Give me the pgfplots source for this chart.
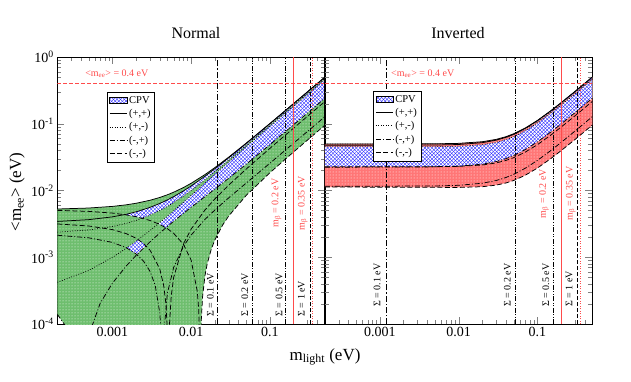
\documentclass[border=0pt]{standalone}
\usepackage{fontspec}
\setmainfont{Liberation Serif}
\usepackage{pgfplots}
\pgfplotsset{compat=1.18}
\usetikzlibrary{patterns}

% diagonal mesh used for the CP-violating band
\pgfdeclarepatternformonly{diagcross}{\pgfqpoint{-1pt}{-1pt}}{\pgfqpoint{4.5pt}{4.5pt}}{\pgfqpoint{3.6pt}{3.6pt}}{%
  \pgfsetlinewidth{0.35pt}%
  \pgfpathmoveto{\pgfqpoint{0pt}{0pt}}\pgfpathlineto{\pgfqpoint{3.65pt}{3.65pt}}%
  \pgfpathmoveto{\pgfqpoint{0pt}{3.6pt}}\pgfpathlineto{\pgfqpoint{3.65pt}{-0.05pt}}%
  \pgfusepath{stroke}}

\definecolor{nhgreen}{RGB}{110,190,110}
\definecolor{ihred}{RGB}{255,118,118}
\definecolor{limred}{RGB}{255,75,75}
\definecolor{meshblue}{RGB}{40,40,255}

\tikzset{
  mydot/.style={dash pattern=on 0.8pt off 1.7pt},
  mydashdot/.style={dash pattern=on 5pt off 2pt on 1pt off 2pt},
  mydash/.style={dash pattern=on 5pt off 2.5pt},
  sumA/.style={black, line width=0.7pt, dash pattern=on 6pt off 2pt on 1.2pt off 2pt},
  sumB/.style={black, line width=0.7pt, dash pattern=on 5pt off 1.5pt on 1pt off 1.5pt on 1pt off 1.5pt},
  sumC/.style={black, line width=0.7pt, dash pattern=on 4pt off 2pt},
  redA/.style={color=limred, draw=limred, line width=1.1pt, solid},
  redB/.style={color=limred, draw=limred, line width=1pt, dash pattern=on 1pt off 1.5pt},
  redC/.style={color=limred, draw=limred, line width=1.1pt, dash pattern=on 4pt off 2pt},
  vlab/.style={font=\fontsize{10}{12}\selectfont, rotate=90},
}

\begin{document}
\begin{tikzpicture}
\path[use as bounding box] (0,0) rectangle (631pt,382pt);

% ---------------- Normal ----------------
\begin{loglogaxis}[
    scale only axis, width=267.6pt, height=267pt, anchor=south west, at={(57.3pt,58pt)},
    xmin=2e-4, xmax=0.5, ymin=1e-4, ymax=1,
    xtick={0.001,0.01,0.1}, xticklabels={0.001,0.01,0.1},
    minor xtick={3e-4,4e-4,5e-4,6e-4,7e-4,8e-4,9e-4,2e-3,3e-3,4e-3,5e-3,6e-3,7e-3,8e-3,9e-3,
      0.02,0.03,0.04,0.05,0.06,0.07,0.08,0.09,0.2,0.3,0.4},
    ytick={1e-4,1e-3,1e-2,1e-1,1},
    minor ytick={2e-4,3e-4,4e-4,5e-4,6e-4,7e-4,8e-4,9e-4,2e-3,3e-3,4e-3,5e-3,6e-3,7e-3,8e-3,9e-3,
      0.02,0.03,0.04,0.05,0.06,0.07,0.08,0.09,0.2,0.3,0.4,0.5,0.6,0.7,0.8,0.9},
    yticklabels={10\textsuperscript{-4},10\textsuperscript{-3},10\textsuperscript{-2},10\textsuperscript{-1},10\textsuperscript{0}},
    tick align=inside, major tick length=7pt, minor tick length=4pt,
    axis line style={line width=0.8pt},
    tick label style={font=\fontsize{14}{16}\selectfont},
    legend cell align=left,
    legend style={at={(0.186,0.869)}, anchor=north west, draw=black, line width=0.6pt,
      font=\fontsize{10.5}{12}\selectfont, inner sep=2pt, row sep=0.5pt}]
% allowed region
\addplot[forget plot, draw=none, fill=nhgreen, postaction={pattern=dots, pattern color=white}] coordinates {
 (2e-4,5.280e-3) (5e-4,5.463e-3) (1e-3,5.777e-3) (1.5e-3,6.101e-3) (2e-3,6.435e-3) (3e-3,7.133e-3)
 (4e-3,7.866e-3) (5e-3,8.632e-3) (6e-3,9.426e-3) (8e-3,1.1083e-2) (1e-2,1.2811e-2) (1.5e-2,1.7326e-2)
 (2e-2,2.1998e-2) (3e-2,3.1568e-2) (5e-2,5.1089e-2) (0.1,0.1006) (0.2,0.2003) (0.5,0.5001)
 (0.5,0.09527) (0.2,0.03777) (0.1,0.01844) (5e-2,8.431e-3) (3e-2,4.144e-3) (2.5e-2,3.003e-3)
 (2e-2,1.810e-3) (1.8e-2,1.311e-3) (1.6e-2,7.95e-4) (1.5e-2,5.31e-4) (1.4e-2,2.59e-4) (1.35e-2,1.2e-4)
 (1.307e-2,1e-6) (4e-4,1e-6) (3e-4,7.1e-5) (2e-4,1.40e-4)};
% CPV-only bands
\addplot[forget plot, draw=none, fill=white, postaction={pattern=diagcross, pattern color=meshblue}] coordinates {
 (1.43e-3,4.33e-3) (1.5e-3,4.315e-3) (2e-3,4.055e-3) (2.42e-3,3.85e-3) (3e-3,4.265e-3) (4e-3,5.009e-3)
 (5e-3,5.786e-3) (6e-3,6.590e-3) (8e-3,8.264e-3) (1e-2,1.0006e-2) (1.5e-2,1.454e-2) (2e-2,1.9209e-2)
 (3e-2,2.8705e-2) (5e-2,4.7874e-2) (0.1,0.09591) (0.2,0.19195) (0.5,0.47998)
 (0.5,0.50007) (0.2,0.20017) (0.1,0.10033) (5e-2,5.0607e-2) (3e-2,3.0886e-2) (2e-2,2.1149e-2)
 (1.5e-2,1.6356e-2) (1e-2,1.1674e-2) (8e-3,9.857e-3) (6e-3,8.090e-3) (5e-3,7.231e-3) (4e-3,6.393e-3)
 (3e-3,5.578e-3) (2.42e-3,5.12e-3) (2e-3,4.789e-3) (1.5e-3,4.404e-3)};
\addplot[forget plot, draw=none, fill=white, postaction={pattern=diagcross, pattern color=meshblue}] coordinates {
 (3.84e-3,3.176e-3) (4e-3,3.105e-3) (4.79e-3,2.77e-3) (5e-3,2.889e-3) (6e-3,3.456e-3) (8e-3,4.545e-3)
 (1e-2,5.589e-3) (1.5e-2,8.084e-3) (2e-2,1.0496e-2) (3e-2,1.5242e-2) (5e-2,2.4699e-2) (0.1,0.04853)
 (0.2,0.09651) (0.5,0.24088)
 (0.5,0.45992) (0.2,0.18381) (0.1,0.09163) (5e-2,4.5381e-2) (3e-2,2.6807e-2) (2e-2,1.7536e-2)
 (1.5e-2,1.294e-2) (1e-2,8.427e-3) (8e-3,6.668e-3) (6e-3,4.954e-3) (5e-3,4.119e-3) (4.79e-3,3.948e-3)
 (4e-3,3.303e-3)};
\addplot[forget plot, draw=none, fill=white, postaction={pattern=diagcross, pattern color=meshblue}] coordinates {
 (1.52e-3,1.38e-3) (2e-3,1.738e-3) (2.13e-3,1.84e-3) (2.5e-3,1.602e-3) (2.67e-3,1.49e-3)
 (2.5e-3,1.383e-3) (2.05e-3,1.10e-3) (2e-3,1.125e-3)};
% (+,+)
\addplot[forget plot, black, line width=0.75pt] coordinates {
 (2e-4,5.280e-3) (5e-4,5.463e-3) (1e-3,5.777e-3) (1.5e-3,6.101e-3) (2e-3,6.435e-3) (3e-3,7.133e-3)
 (4e-3,7.866e-3) (5e-3,8.632e-3) (6e-3,9.426e-3) (8e-3,1.1083e-2) (1e-2,1.2811e-2) (1.5e-2,1.7326e-2)
 (2e-2,2.1998e-2) (3e-2,3.1568e-2) (5e-2,5.1089e-2) (0.1,0.1006) (0.2,0.2003) (0.5,0.5001)};
\addplot[forget plot, black, line width=0.75pt] coordinates {
 (2e-4,3.440e-3) (5e-4,3.658e-3) (1e-3,4.028e-3) (1.5e-3,4.404e-3) (2e-3,4.789e-3) (3e-3,5.578e-3)
 (4e-3,6.393e-3) (5e-3,7.231e-3) (6e-3,8.090e-3) (8e-3,9.857e-3) (1e-2,1.1674e-2) (1.5e-2,1.6356e-2)
 (2e-2,2.1149e-2) (3e-2,3.0886e-2) (5e-2,5.0607e-2) (0.1,0.10033) (0.2,0.20017) (0.5,0.50007)};
% (+,-)
\addplot[forget plot, black, line width=0.75pt, mydot] coordinates {
 (2e-4,2.379e-3) (5e-4,2.566e-3) (1e-3,2.885e-3) (1.5e-3,3.215e-3) (2e-3,3.555e-3) (3e-3,4.265e-3)
 (4e-3,5.009e-3) (5e-3,5.786e-3) (6e-3,6.590e-3) (8e-3,8.264e-3) (1e-2,1.0006e-2) (1.5e-2,1.454e-2)
 (2e-2,1.9209e-2) (3e-2,2.8705e-2) (5e-2,4.7874e-2) (0.1,0.09591) (0.2,0.19195) (0.5,0.47998)};
\addplot[forget plot, black, line width=0.75pt, mydot] coordinates {
 (2e-4,4.205e-4) (5e-4,6.34e-4) (1e-3,9.95e-4) (1.5e-3,1.363e-3) (2e-3,1.738e-3) (3e-3,2.509e-3)
 (4e-3,3.303e-3) (5e-3,4.119e-3) (6e-3,4.954e-3) (8e-3,6.668e-3) (1e-2,8.427e-3) (1.5e-2,1.294e-2)
 (2e-2,1.7536e-2) (3e-2,2.6807e-2) (5e-2,4.5381e-2) (0.1,0.09163) (0.2,0.18381) (0.5,0.45992)};
% (-,+)
\addplot[forget plot, black, line width=0.75pt, mydashdot] coordinates {
 (2e-4,1.40e-4) (3e-4,7.1e-5) (4.02e-4,1e-6) (5e-4,6.7e-5) (7e-4,2.04e-4) (1e-3,4.07e-4) (1.5e-3,7.39e-4)
 (2e-3,1.066e-3) (3e-3,1.696e-3) (4e-3,2.303e-3) (5e-3,2.889e-3) (6e-3,3.456e-3) (8e-3,4.545e-3)
 (1e-2,5.589e-3) (1.5e-2,8.084e-3) (2e-2,1.0496e-2) (3e-2,1.5242e-2) (5e-2,2.4699e-2) (0.1,0.04853)
 (0.2,0.09651) (0.5,0.24088)};
\addplot[forget plot, black, line width=0.75pt, mydashdot] coordinates {
 (2e-4,2.136e-3) (5e-4,1.958e-3) (1e-3,1.670e-3) (1.5e-3,1.392e-3) (2e-3,1.125e-3) (2.5e-3,8.67e-4)
 (3e-3,6.19e-4) (3.5e-3,3.8e-4) (4e-3,1.48e-4) (4.2e-3,6.0e-5) (4.34e-3,1e-6) (4.5e-3,7.1e-5)
 (5e-3,2.9e-4) (6e-3,7.02e-4) (8e-3,1.457e-3) (1e-2,2.146e-3) (1.5e-2,3.688e-3) (2e-2,5.095e-3)
 (3e-2,7.752e-3) (5e-2,1.2886e-2) (0.1,0.02561) (0.2,0.05109) (0.5,0.12762)};
% (-,-)
\addplot[forget plot, black, line width=0.75pt, mydash] coordinates {
 (2e-4,3.154e-3) (5e-4,2.943e-3) (1e-3,2.597e-3) (1.5e-3,2.258e-3) (2e-3,1.927e-3) (2.5e-3,1.602e-3)
 (3e-3,1.285e-3) (4e-3,6.70e-4) (4.5e-3,3.7e-4) (4.8e-3,1.96e-4) (5e-3,7.7e-5) (5.135e-3,1e-6)
 (5.3e-3,9.4e-5) (5.6e-3,2.66e-4) (6e-3,4.95e-4) (8e-3,1.59e-3) (1e-2,2.634e-3) (1.5e-2,5.106e-3)
 (2e-2,7.468e-3) (3e-2,1.2038e-2) (5e-2,2.0933e-2) (0.1,0.04275) (0.2,0.08599) (0.5,0.21533)};
\addplot[forget plot, black, line width=0.75pt, mydash] coordinates {
 (2e-4,5.042e-3) (5e-4,4.868e-3) (1e-3,4.586e-3) (1.5e-3,4.315e-3) (2e-3,4.055e-3) (3e-3,3.561e-3)
 (4e-3,3.105e-3) (5e-3,2.680e-3) (6e-3,2.284e-3) (8e-3,1.560e-3) (1e-2,9.07e-4) (1.2e-2,3.055e-4)
 (1.25e-2,1.62e-4) (1.3e-2,1.9e-5) (1.307e-2,1e-6) (1.35e-2,1.2e-4) (1.4e-2,2.59e-4) (1.5e-2,5.31e-4)
 (1.6e-2,7.95e-4) (1.8e-2,1.311e-3) (2e-2,1.810e-3) (2.5e-2,3.003e-3) (3e-2,4.144e-3) (5e-2,8.431e-3)
 (0.1,0.01844) (0.2,0.03777) (0.5,0.09527)};
% sum of masses and m_beta limits
\addplot[forget plot, sumA] coordinates {(0.0214,1e-4) (0.0214,1)};
\addplot[forget plot, sumB] coordinates {(0.0593,1e-4) (0.0593,1)};
\addplot[forget plot, sumB] coordinates {(0.159,1e-4) (0.159,1)};
\addplot[forget plot, sumC] coordinates {(0.322,1e-4) (0.322,1)};
\addplot[forget plot, redA] coordinates {(0.2,1e-4) (0.2,1)};
\addplot[forget plot, redB] coordinates {(0.35,1e-4) (0.35,1)};
\addplot[forget plot, redC] coordinates {(2e-4,0.4) (0.5,0.4)};
\node[vlab, anchor=west] at (axis cs:0.0176,1.15e-4) {Σ = 0.1 eV};
\node[vlab, anchor=west] at (axis cs:0.048,1.15e-4) {Σ = 0.2 eV};
\node[vlab, anchor=west] at (axis cs:0.131,1.15e-4) {Σ = 0.5 eV};
\node[vlab, anchor=west] at (axis cs:0.251,1.15e-4) {Σ = 1 eV};
\node[vlab, text=limred] at (axis cs:0.122,6.5e-3) {m\textsubscript{β} = 0.2 eV};
\node[vlab, text=limred] at (axis cs:0.262,6.5e-3) {m\textsubscript{β} = 0.35 eV};
\node[text=limred, font=\fontsize{10}{12}\selectfont] at (axis cs:1.14e-3,0.56) {<m\textsubscript{ee}> = 0.4 eV};
\addlegendimage{area legend, draw=none, pattern=diagcross, pattern color=meshblue}
\addlegendentry{CPV}
\addlegendimage{black, line width=0.75pt}
\addlegendentry{(+,+)}
\addlegendimage{black, line width=0.75pt, dash pattern=on 0.8pt off 1.7pt}
\addlegendentry{(+,-)}
\addlegendimage{black, line width=0.75pt, dash pattern=on 5pt off 2pt on 1pt off 2pt}
\addlegendentry{(-,+)}
\addlegendimage{black, line width=0.75pt, dash pattern=on 5pt off 2.5pt}
\addlegendentry{(-,-)}
\end{loglogaxis}

% ---------------- Inverted ----------------
\begin{loglogaxis}[
    scale only axis, width=267.6pt, height=267pt, anchor=south west, at={(324.8pt,58pt)},
    xmin=2e-4, xmax=0.5, ymin=1e-4, ymax=1,
    xtick={0.001,0.01,0.1}, xticklabels={0.001,0.01,0.1},
    minor xtick={3e-4,4e-4,5e-4,6e-4,7e-4,8e-4,9e-4,2e-3,3e-3,4e-3,5e-3,6e-3,7e-3,8e-3,9e-3,
      0.02,0.03,0.04,0.05,0.06,0.07,0.08,0.09,0.2,0.3,0.4},
    ytick={1e-4,1e-3,1e-2,1e-1,1}, yticklabels={},
    minor ytick={2e-4,3e-4,4e-4,5e-4,6e-4,7e-4,8e-4,9e-4,2e-3,3e-3,4e-3,5e-3,6e-3,7e-3,8e-3,9e-3,
      0.02,0.03,0.04,0.05,0.06,0.07,0.08,0.09,0.2,0.3,0.4,0.5,0.6,0.7,0.8,0.9},
    tick align=inside, major tick length=7pt, minor tick length=4pt,
    axis line style={line width=0.8pt},
    tick label style={font=\fontsize{14}{16}\selectfont},
    legend cell align=left,
    legend style={at={(0.181,0.873)}, anchor=north west, draw=black, line width=0.6pt,
      font=\fontsize{10.5}{12}\selectfont, inner sep=2pt, row sep=0.5pt}]
\addplot[forget plot, draw=none, fill=ihred, postaction={pattern=dots, pattern color=white}] coordinates {
 (2e-4,0.04969) (5e-3,0.05003) (0.01,0.05084) (0.02,0.05381) (0.03,0.05833) (0.04,0.06409) (0.05,0.07078)
 (0.07,0.08610) (0.1,0.11188) (0.15,0.15817) (0.2,0.20620) (0.3,0.30417) (0.5,0.50251)
 (0.5,0.09575) (0.3,0.05804) (0.2,0.03944) (0.15,0.03036) (0.1,0.02166) (0.07,0.01689) (0.05,0.01413)
 (0.04,0.01297) (0.03,0.01204) (0.02,0.01139) (0.01,0.01112) (5e-3,0.01115) (2e-4,0.01128)};
\addplot[forget plot, draw=none, fill=white, postaction={pattern=diagcross, pattern color=meshblue}] coordinates {
 (2e-4,0.02276) (5e-3,0.02278) (0.01,0.02313) (0.02,0.02479) (0.03,0.02714) (0.04,0.03005) (0.05,0.03338)
 (0.07,0.04092) (0.1,0.05347) (0.15,0.07589) (0.2,0.09909) (0.3,0.14634) (0.5,0.24192)
 (0.5,0.46213) (0.3,0.27954) (0.2,0.18927) (0.15,0.14496) (0.1,0.10216) (0.07,0.07825) (0.05,0.06401)
 (0.04,0.05780) (0.03,0.05249) (0.02,0.04841) (0.01,0.04592) (5e-3,0.04537) (2e-4,0.04530)};
\addplot[forget plot, draw=none, fill=white, postaction={pattern=diagcross, pattern color=meshblue}] coordinates {
 (0.0363,0.0609) (0.04,0.06249) (0.05,0.06878) (0.07,0.08330) (0.1,0.10788) (0.15,0.15217) (0.2,0.19820)
 (0.3,0.29217) (0.5,0.48251)
 (0.5,0.50235) (0.3,0.30389) (0.2,0.20579) (0.15,0.15764) (0.1,0.11112) (0.07,0.08511) (0.05,0.06954)
 (0.04,0.06270)};
\addplot[forget plot, black, line width=0.75pt] coordinates {
 (2e-4,0.04969) (5e-3,0.05003) (0.01,0.05084) (0.02,0.05381) (0.03,0.05833) (0.04,0.06409) (0.05,0.07078)
 (0.07,0.08610) (0.1,0.11188) (0.15,0.15817) (0.2,0.20620) (0.3,0.30417) (0.5,0.50251)};
\addplot[forget plot, black, line width=0.75pt] coordinates {
 (2e-4,0.04753) (5e-3,0.04796) (0.01,0.04888) (0.02,0.05205) (0.03,0.05677) (0.04,0.06270) (0.05,0.06954)
 (0.07,0.08511) (0.1,0.11112) (0.15,0.15764) (0.2,0.20579) (0.3,0.30389) (0.5,0.50235)};
\addplot[forget plot, black, line width=0.75pt, mydot] coordinates {
 (2e-4,0.04530) (5e-3,0.04537) (0.01,0.04592) (0.02,0.04841) (0.03,0.05249) (0.04,0.05780) (0.05,0.06401)
 (0.07,0.07825) (0.1,0.10216) (0.15,0.14496) (0.2,0.18927) (0.3,0.27954) (0.5,0.46213)};
\addplot[forget plot, black, line width=0.75pt, mydot] coordinates {
 (2e-4,0.04968) (5e-3,0.04983) (0.01,0.05044) (0.02,0.05301) (0.03,0.05713) (0.04,0.06249) (0.05,0.06878)
 (0.07,0.08330) (0.1,0.10788) (0.15,0.15217) (0.2,0.19820) (0.3,0.29217) (0.5,0.48251)};
\addplot[forget plot, black, line width=0.75pt, mydashdot] coordinates {
 (2e-4,0.02231) (5e-3,0.02261) (0.01,0.02313) (0.02,0.02479) (0.03,0.02714) (0.04,0.03005) (0.05,0.03338)
 (0.07,0.04092) (0.1,0.05347) (0.15,0.07589) (0.2,0.09909) (0.3,0.14634) (0.5,0.24192)};
\addplot[forget plot, black, line width=0.75pt, mydashdot] coordinates {
 (2e-4,0.01153) (5e-3,0.01168) (0.01,0.01196) (0.02,0.01285) (0.03,0.01411) (0.04,0.01568) (0.05,0.01747)
 (0.07,0.02150) (0.1,0.02819) (0.15,0.04012) (0.2,0.05243) (0.3,0.07750) (0.5,0.12816)};
\addplot[forget plot, black, line width=0.75pt, mydash] coordinates {
 (2e-4,0.02276) (5e-3,0.02278) (0.01,0.02301) (0.02,0.02409) (0.03,0.02588) (0.04,0.02824) (0.05,0.03104)
 (0.07,0.03751) (0.1,0.04850) (0.15,0.06835) (0.2,0.08899) (0.3,0.13114) (0.5,0.21655)};
\addplot[forget plot, black, line width=0.75pt, mydash] coordinates {
 (2e-4,0.01128) (5e-3,0.01115) (0.01,0.01112) (0.02,0.01139) (0.03,0.01204) (0.04,0.01297) (0.05,0.01413)
 (0.07,0.01689) (0.1,0.02166) (0.15,0.03036) (0.2,0.03944) (0.3,0.05804) (0.5,0.09575)};
\addplot[forget plot, sumA] coordinates {(0.00121,1e-4) (0.00121,1)};
\addplot[forget plot, sumB] coordinates {(0.053,1e-4) (0.053,1)};
\addplot[forget plot, sumB] coordinates {(0.16,1e-4) (0.16,1)};
\addplot[forget plot, sumC] coordinates {(0.325,1e-4) (0.325,1)};
\addplot[forget plot, redA] coordinates {(0.2,1e-4) (0.2,1)};
\addplot[forget plot, redB] coordinates {(0.35,1e-4) (0.35,1)};
\addplot[forget plot, redC] coordinates {(2e-4,0.4) (0.5,0.4)};
\node[vlab, anchor=west] at (axis cs:9.2e-4,1.6e-4) {Σ = 0.1 eV};
\node[vlab, anchor=west] at (axis cs:0.0416,1.6e-4) {Σ = 0.2 eV};
\node[vlab, anchor=west] at (axis cs:0.128,1.6e-4) {Σ = 0.5 eV};
\node[vlab, anchor=west] at (axis cs:0.253,1.6e-4) {Σ = 1 eV};
\node[vlab, text=limred] at (axis cs:0.122,9e-3) {m\textsubscript{β} = 0.2 eV};
\node[vlab, text=limred] at (axis cs:0.266,9e-3) {m\textsubscript{β} = 0.35 eV};
\node[text=limred, font=\fontsize{10}{12}\selectfont] at (axis cs:3.5e-3,0.56) {<m\textsubscript{ee}> = 0.4 eV};
\addlegendimage{area legend, draw=none, pattern=diagcross, pattern color=meshblue}
\addlegendentry{CPV}
\addlegendimage{black, line width=0.75pt}
\addlegendentry{(+,+)}
\addlegendimage{black, line width=0.75pt, dash pattern=on 0.8pt off 1.7pt}
\addlegendentry{(+,-)}
\addlegendimage{black, line width=0.75pt, dash pattern=on 5pt off 2pt on 1pt off 2pt}
\addlegendentry{(-,+)}
\addlegendimage{black, line width=0.75pt, dash pattern=on 5pt off 2.5pt}
\addlegendentry{(-,-)}
\end{loglogaxis}

\node[font=\fontsize{16}{18}\selectfont] at (196pt,349pt) {Normal};
\node[font=\fontsize{16}{18}\selectfont] at (458pt,349pt) {Inverted};
\node[font=\fontsize{17}{19}\selectfont] at (325pt,25pt) {m\textsubscript{light} (eV)};
\node[font=\fontsize{17}{19}\selectfont, rotate=90] at (17pt,190pt) {<m\textsubscript{ee}> (eV)};
\end{tikzpicture}
\end{document}
